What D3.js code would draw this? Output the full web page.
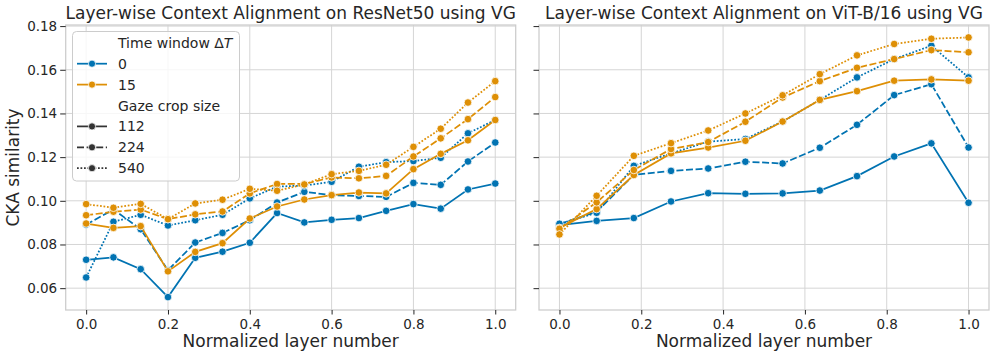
<!DOCTYPE html>
<html>
<head>
<meta charset="utf-8">
<script src="https://d3js.org/d3.v7.min.js"></script>
<style>
  body { margin: 0; background: #fff; }
  text { font-family: "DejaVu Sans", sans-serif; fill: #262626; }
</style>
</head>
<body>
<div id="chart"></div>
<script>
// normalized layer positions
var resnetLayers = [0, 0.0667, 0.1333, 0.2, 0.2667, 0.3333, 0.4, 0.4667, 0.5333, 0.6, 0.6667, 0.7333, 0.8, 0.8667, 0.9333, 1.0];
var vitLayers = [0, 0.0909, 0.1818, 0.2727, 0.3636, 0.4545, 0.5455, 0.6364, 0.7273, 0.8182, 0.9091, 1.0];

// ResNet50, time window 0
var resnet_t0_112 = [0.0730, 0.0741, 0.0687, 0.0559, 0.0739, 0.0767, 0.0808, 0.0944, 0.0901, 0.0913, 0.0921, 0.0954, 0.0985, 0.0964, 0.1052, 0.1079];
var resnet_t0_224 = [0.0891, 0.0960, 0.0870, 0.0682, 0.0809, 0.0853, 0.0911, 0.0992, 0.1041, 0.1026, 0.1022, 0.1018, 0.1082, 0.1073, 0.1180, 0.1267];
var resnet_t0_540 = [0.0649, 0.0904, 0.0936, 0.0887, 0.0911, 0.0936, 0.1011, 0.1065, 0.1070, 0.1087, 0.1156, 0.1177, 0.1182, 0.1197, 0.1309, 0.1370];
// ResNet50, time window 15
var resnet_t15_112 = [0.0896, 0.0876, 0.0884, 0.0677, 0.0766, 0.0806, 0.0919, 0.0974, 0.1006, 0.1026, 0.1038, 0.1034, 0.1145, 0.1215, 0.1277, 0.1370];
var resnet_t15_224 = [0.0934, 0.0950, 0.0960, 0.0916, 0.0938, 0.0951, 0.1034, 0.1077, 0.1077, 0.1107, 0.1103, 0.1114, 0.1203, 0.1286, 0.1374, 0.1475];
var resnet_t15_540 = [0.0985, 0.0968, 0.0986, 0.0916, 0.0988, 0.1005, 0.1055, 0.1046, 0.1075, 0.1122, 0.1137, 0.1165, 0.1247, 0.1330, 0.1450, 0.1548];

// ViT-B/16, time window 0
var vit_t0_112 = [0.0889, 0.0908, 0.0921, 0.0997, 0.1035, 0.1032, 0.1034, 0.1047, 0.1113, 0.1203, 0.1263, 0.0991];
var vit_t0_224 = [0.0893, 0.0950, 0.1119, 0.1137, 0.1148, 0.1179, 0.1171, 0.1243, 0.1348, 0.1484, 0.1534, 0.1244];
var vit_t0_540 = [0.0895, 0.0945, 0.1160, 0.1217, 0.1271, 0.1283, 0.1363, 0.1462, 0.1565, 0.1649, 0.1710, 0.1565];
// ViT-B/16, time window 15
var vit_t15_112 = [0.0876, 0.0962, 0.1118, 0.1217, 0.1244, 0.1275, 0.1363, 0.1462, 0.1502, 0.1550, 0.1556, 0.1550];
var vit_t15_224 = [0.0872, 0.0993, 0.1141, 0.1237, 0.1269, 0.1362, 0.1473, 0.1548, 0.1609, 0.1649, 0.1690, 0.1680];
var vit_t15_540 = [0.0846, 0.1023, 0.1206, 0.1264, 0.1322, 0.1400, 0.1483, 0.1580, 0.1666, 0.1718, 0.1742, 0.1748];

var timeWindows = ["0", "15"];
var cropSizes = ["112", "224", "540"];
var xTicks = [0, 0.2, 0.4, 0.6, 0.8, 1.0];
var yTicks = [0.06, 0.08, 0.10, 0.12, 0.14, 0.16, 0.18];

var colors = { "0": "#0173b2", "15": "#de8f05" };
var dashes = { "112": null, "224": "7,2.6", "540": "1.75,1.75" };

var panels = [
  { title: "Layer-wise Context Alignment on ResNet50 using VG", left: 65.7, layers: resnetLayers,
    series: [
      { t: "0", c: "112", v: resnet_t0_112 }, { t: "0", c: "224", v: resnet_t0_224 }, { t: "0", c: "540", v: resnet_t0_540 },
      { t: "15", c: "112", v: resnet_t15_112 }, { t: "15", c: "224", v: resnet_t15_224 }, { t: "15", c: "540", v: resnet_t15_540 }
    ] },
  { title: "Layer-wise Context Alignment on ViT-B/16 using VG", left: 539, layers: vitLayers,
    series: [
      { t: "0", c: "112", v: vit_t0_112 }, { t: "0", c: "224", v: vit_t0_224 }, { t: "0", c: "540", v: vit_t0_540 },
      { t: "15", c: "112", v: vit_t15_112 }, { t: "15", c: "224", v: vit_t15_224 }, { t: "15", c: "540", v: vit_t15_540 }
    ] }
];

var W = 996, H = 358, marginTop = 25,
    width = 450, height = 285;

var svg = d3.select("#chart").append("svg")
  .attr("width", W).attr("height", H);

var x = d3.scaleLinear().domain([-0.05, 1.05]).range([0, width]);
var y = d3.scaleLinear().domain([0.05, 0.1805]).range([height, 0]);

panels.forEach(function(p, pi) {
  var g = svg.append("g").attr("transform", "translate(" + p.left + "," + marginTop + ")");

  // grid
  g.selectAll(".gx").data(xTicks).enter().append("line")
    .attr("x1", function(d) { return x(d); }).attr("x2", function(d) { return x(d); })
    .attr("y1", 0).attr("y2", height)
    .attr("stroke", "#d5d5d5").attr("stroke-width", 1);
  g.selectAll(".gy").data(yTicks).enter().append("line")
    .attr("y1", function(d) { return y(d); }).attr("y2", function(d) { return y(d); })
    .attr("x1", 0).attr("x2", width)
    .attr("stroke", "#d5d5d5").attr("stroke-width", 1);

  // frame
  g.append("rect").attr("width", width).attr("height", height)
    .attr("fill", "none").attr("stroke", "#cccccc").attr("stroke-width", 1.25);

  // y axis ticks (labels only on first panel)
  var yAxis = d3.axisLeft(y).tickValues(yTicks).tickSize(5.5).tickPadding(3)
    .tickFormat(pi === 0 ? d3.format(".2f") : "");
  var ya = g.append("g").call(yAxis);
  ya.select(".domain").remove();
  ya.selectAll(".tick line").attr("stroke", "#262626").attr("stroke-width", 1);
  ya.selectAll("text").style("font-size", "13.5px").attr("fill", "#262626")
    .style("font-family", "DejaVu Sans, sans-serif");

  var xAxis = d3.axisBottom(x).tickValues(xTicks).tickSize(4.5).tickPadding(5)
    .tickFormat(d3.format(".1f"));
  var xa = g.append("g").attr("transform", "translate(0," + height + ")").call(xAxis);
  xa.select(".domain").remove();
  xa.selectAll(".tick line").attr("stroke", "#262626").attr("stroke-width", 1);
  xa.selectAll("text").style("font-size", "13.5px").attr("fill", "#262626")
    .style("font-family", "DejaVu Sans, sans-serif");

  g.append("text").attr("x", width / 2).attr("y", height + 37)
    .attr("text-anchor", "middle").style("font-size", "17px")
    .text("Normalized layer number");

  g.append("text").attr("x", width / 2).attr("y", -5.6)
    .attr("text-anchor", "middle").style("font-size", "17px")
    .text(p.title);

  var line = d3.line()
    .x(function(d, i) { return x(p.layers[i]); })
    .y(function(d) { return y(d); });

  p.series.forEach(function(s) {
    g.append("path").datum(s.v)
      .attr("d", line)
      .attr("fill", "none")
      .attr("stroke", colors[s.t])
      .attr("stroke-width", 1.75)
      .attr("stroke-dasharray", dashes[s.c]);
    g.selectAll(null).data(s.v).enter().append("circle")
      .attr("cx", function(d, i) { return x(p.layers[i]); })
      .attr("cy", function(d) { return y(d); })
      .attr("r", 3.8)
      .attr("fill", colors[s.t])
      .attr("stroke", "#fff").attr("stroke-width", 0.8);
  });
});

svg.append("text")
  .attr("transform", "translate(18.5," + (marginTop + height / 2) + ") rotate(-90)")
  .attr("text-anchor", "middle").style("font-size", "17px")
  .text("CKA similarity");

// legend
var lg = svg.append("g").attr("transform", "translate(72.5,31.5)");
lg.append("rect").attr("width", 167).attr("height", 149.5).attr("rx", 4)
  .attr("fill", "#fff").attr("fill-opacity", 0.8)
  .attr("stroke", "#cccccc").attr("stroke-width", 1);

var rows = [
  { label: "Time window ", title: true },
  { label: "0", color: colors["0"], dash: null },
  { label: "15", color: colors["15"], dash: null },
  { label: "Gaze crop size", title: true },
  { label: "112", color: "#333333", dash: dashes["112"] },
  { label: "224", color: "#333333", dash: dashes["224"] },
  { label: "540", color: "#333333", dash: dashes["540"] }
];

rows.forEach(function(r, i) {
  var cy = 11.3 + i * 20.9;
  var t = lg.append("text").attr("x", 45.5).attr("y", cy).attr("dy", "0.36em")
    .style("font-size", "14px");
  if (r.title && i === 0) {
    t.append("tspan").text("Time window \u0394");
    t.append("tspan").style("font-style", "italic").text("T");
  } else {
    t.text(r.label);
  }
  if (!r.title) {
    lg.append("line").attr("x1", 4.5).attr("x2", 34.5).attr("y1", cy).attr("y2", cy)
      .attr("stroke", r.color).attr("stroke-width", 1.75)
      .attr("stroke-dasharray", r.dash);
    lg.append("circle").attr("cx", 19.5).attr("cy", cy).attr("r", 3.6)
      .attr("fill", r.color).attr("stroke", "#fff").attr("stroke-width", 0.8);
  }
});
</script>
</body>
</html>
